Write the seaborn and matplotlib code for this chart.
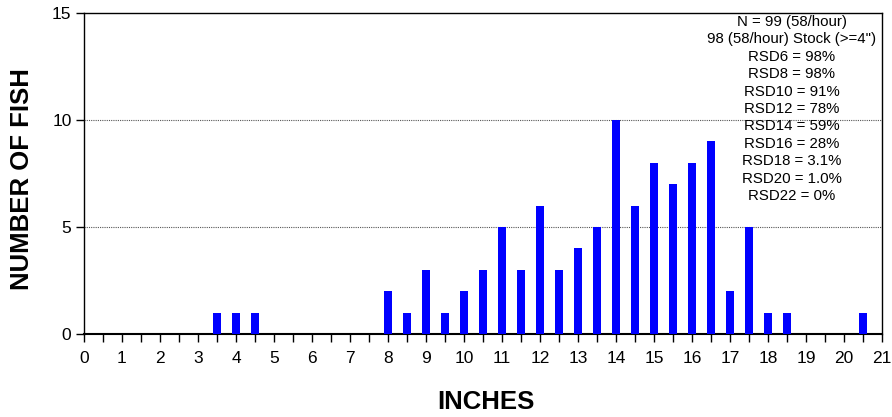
import matplotlib
matplotlib.use("Agg")
import matplotlib.pyplot as plt
import seaborn as sns
import pandas as pd
from matplotlib.ticker import MultipleLocator, FuncFormatter

inches = [3.5, 4, 4.5, 8, 8.5, 9, 9.5, 10, 10.5, 11, 11.5, 12, 12.5, 13, 13.5,
          14, 14.5, 15, 15.5, 16, 16.5, 17, 17.5, 18, 18.5, 20.5]
counts = [1, 1, 1, 2, 1, 3, 1, 2, 3, 5, 3, 6, 3, 4, 5,
          10, 6, 8, 7, 8, 9, 2, 5, 1, 1, 1]
stats_lines = ["N = 99 (58/hour)", "98 (58/hour) Stock (>=4\")", "RSD6 = 98%",
               "RSD8 = 98%", "RSD10 = 91%", "RSD12 = 78%", "RSD14 = 59%",
               "RSD16 = 28%", "RSD18 = 3.1%", "RSD20 = 1.0%", "RSD22 = 0%"]

sns.set_style("white")
plt.rcParams['font.family'] = ['Liberation Sans', 'DejaVu Sans']
plt.rcParams['text.color'] = 'black'
plt.rcParams['axes.labelcolor'] = 'black'

df = pd.DataFrame({"inches": inches, "count": counts})

fig = plt.figure(figsize=(8.92, 4.17), dpi=100)
ax = fig.add_axes([84/892, 1-334/417, (882-84)/892, (334-13)/417])

sns.barplot(data=df, x="inches", y="count", native_scale=True, width=0.42,
            color="#0000FF", saturation=1, linewidth=0, ax=ax, zorder=3)

ax.set_xlim(0, 21)
ax.set_ylim(0, 15)
ax.xaxis.set_major_locator(MultipleLocator(1))
ax.xaxis.set_minor_locator(MultipleLocator(0.5))
ax.yaxis.set_major_locator(MultipleLocator(5))
ax.xaxis.set_major_formatter(FuncFormatter(lambda v, p: f"{int(round(v))}"))
ax.tick_params(axis='x', which='both', direction='out', length=6, width=1, colors='black',
               labelsize=12.5, bottom=True, pad=6)
ax.tick_params(axis='y', which='major', direction='out', length=6, width=1, colors='black',
               labelsize=12.5, left=True, pad=3)
for y in [5, 10]:
    ax.axhline(y, color='#555555', linestyle=(0, (1, 1)), linewidth=0.8, zorder=1)
for s in ax.spines.values():
    s.set_color('black')
    s.set_linewidth(1)
ax.spines['bottom'].set_linewidth(1.5)

ax.set_xlabel("INCHES", fontsize=18.5, fontweight='bold')
ax.set_ylabel("NUMBER OF FISH", fontsize=18.5, fontweight='bold')
ax.xaxis.label.set_va('center')
ax.yaxis.label.set_va('center')
ax.xaxis.set_label_coords((486-84)/798, -(402-334)/321)
ax.yaxis.set_label_coords((22-84)/798, 1-(179-13)/321)

y0 = 22
for i, line in enumerate(stats_lines):
    fig.text(792/892, 1 - (y0 + i*17.4)/417, line, ha='center', va='center',
             fontsize=10.8, color='black')

fig.savefig("out.png", dpi=100)
